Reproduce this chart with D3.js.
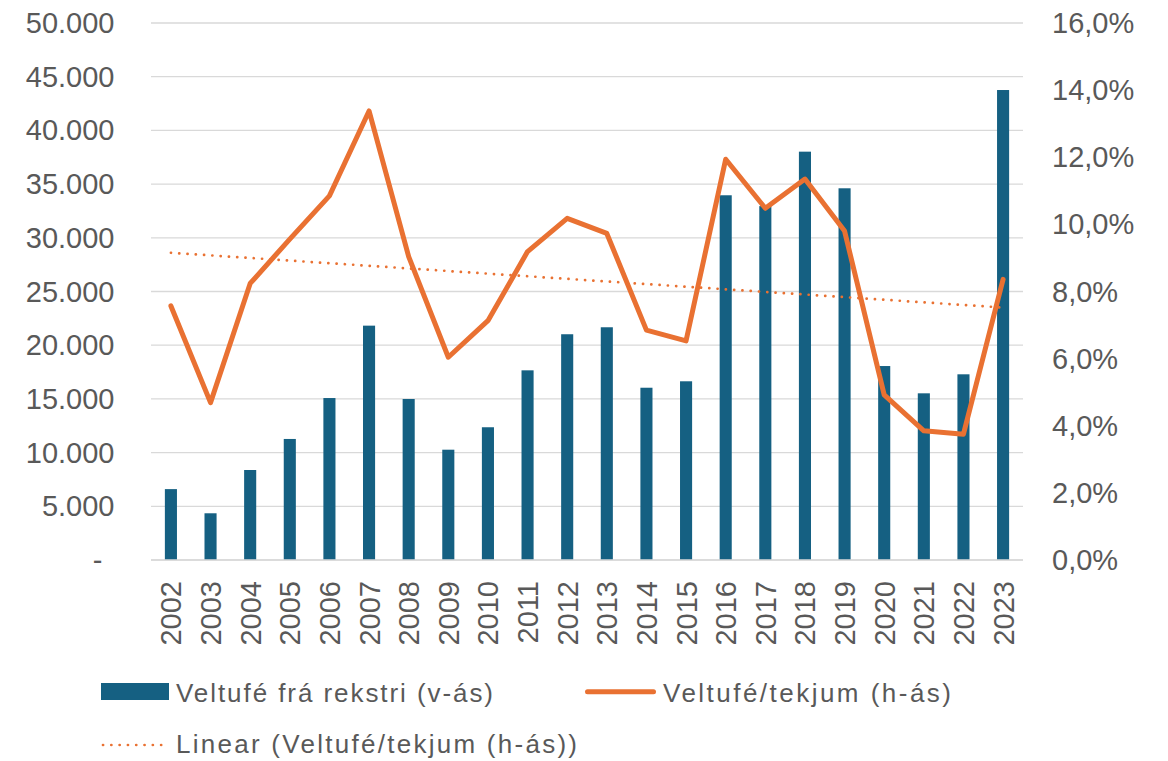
<!DOCTYPE html>
<html>
<head>
<meta charset="utf-8">
<script src="https://cdn.jsdelivr.net/npm/d3@7"></script>
<style>
  html, body { margin: 0; padding: 0; background: #fff; }
  svg { display: block; }
  text { font-family: "Liberation Sans", Arial, sans-serif; fill: #595959; }
</style>
</head>
<body>
<svg id="chart" width="1168" height="761"></svg>
<script>
const years = ["2002","2003","2004","2005","2006","2007","2008","2009","2010","2011","2012",
               "2013","2014","2015","2016","2017","2018","2019","2020","2021","2022","2023"];
const veltufe = [6600, 4350, 8380, 11270, 15080, 21820, 14990, 10270, 12360, 17660, 21020,
                 21670, 16040, 16640, 33960, 32950, 38020, 34610, 18060, 15520, 17290, 43760];
const hlutfall = [7.57, 4.69, 8.24, 9.56, 10.85, 13.38, 9.04, 6.04, 7.13, 9.19, 10.18,
                  9.73, 6.85, 6.53, 11.94, 10.48, 11.35, 9.80, 4.92, 3.85, 3.75, 8.36];
const leftTicks = [0, 5000, 10000, 15000, 20000, 25000, 30000, 35000, 40000, 45000, 50000];
const rightTicks = [0, 2, 4, 6, 8, 10, 12, 14, 16];
const legendLabels = ["Veltufé frá rekstri (v-ás)", "Veltufé/tekjum (h-ás)", "Linear (Veltufé/tekjum (h-ás))"];

(function () {
const BAR = "#156082", ORANGE = "#E97132", GRID = "#D9D9D9";
const svg = d3.select("#chart");
const pLeft = 151, pRight = 1023, pTop = 23, pBottom = 560;

const x = d3.scaleBand().domain(years).range([pLeft, pRight]).paddingInner(0.695).paddingOuter(0.35);
const yL = d3.scaleLinear().domain([0, 50000]).range([pBottom, pTop]);
const yR = d3.scaleLinear().domain([0, 16]).range([pBottom, pTop]);

// gridlines
svg.append("g").selectAll("line").data(leftTicks).join("line")
  .attr("x1", pLeft).attr("x2", pRight)
  .attr("y1", d => yL(d)).attr("y2", d => yL(d))
  .attr("stroke", GRID).attr("stroke-width", 1.3);

// left axis
const fmtL = d => d === 0 ? "-" : d3.format(",")(d).replace(/,/g, ".");
const gL = svg.append("g").attr("transform", `translate(114.5,0)`)
  .call(d3.axisLeft(yL).tickValues(leftTicks).tickSize(0).tickPadding(0).tickFormat(fmtL));
gL.select(".domain").remove();
gL.selectAll("text").attr("font-size", 29).attr("dy", "0.33em")
  .attr("font-family", "Liberation Sans, Arial, sans-serif").attr("fill", "#595959")
  .attr("dx", d => d === 0 ? -12 : 0);

// right axis
const fmtR = d => d3.format(".1f")(d).replace(".", ",") + "%";
const gR = svg.append("g").attr("transform", `translate(1052,0)`)
  .call(d3.axisRight(yR).tickValues(rightTicks).tickSize(0).tickPadding(0).tickFormat(fmtR));
gR.select(".domain").remove();
gR.selectAll("text").attr("font-size", 29).attr("dy", "0.33em")
  .attr("font-family", "Liberation Sans, Arial, sans-serif").attr("fill", "#595959");

// bars
svg.append("g").selectAll("rect").data(years).join("rect")
  .attr("x", d => x(d)).attr("width", x.bandwidth())
  .attr("y", (d, i) => yL(veltufe[i])).attr("height", (d, i) => yL(0) - yL(veltufe[i]))
  .attr("fill", BAR);

// x axis
const gX = svg.append("g").attr("transform", `translate(0,${pBottom})`)
  .call(d3.axisBottom(x).tickSize(0).tickPadding(0));
gX.select(".domain").attr("stroke", GRID).attr("stroke-width", 1.3)
  .attr("d", `M${pLeft},0H${pRight}`);
gX.selectAll("text").attr("font-size", 29)
  .attr("font-family", "Liberation Sans, Arial, sans-serif").attr("fill", "#595959")
  .attr("text-anchor", "end").attr("transform", "rotate(-90)")
  .attr("x", -21).attr("y", 0).attr("dy", "0.36em");

// main line
const cx = d => x(d) + x.bandwidth() / 2;
const line = d3.line().x((d, i) => cx(years[i])).y(d => yR(d));
svg.append("path").datum(hlutfall).attr("d", line)
  .attr("fill", "none").attr("stroke", ORANGE).attr("stroke-width", 5)
  .attr("stroke-linejoin", "round").attr("stroke-linecap", "round");

// linear trend (least squares of the series)
const n = hlutfall.length;
const xs = d3.range(1, n + 1);
const mx = d3.mean(xs), my = d3.mean(hlutfall);
const slope = d3.sum(xs, (v, i) => (v - mx) * (hlutfall[i] - my)) / d3.sum(xs, v => (v - mx) ** 2);
const icpt = my - slope * mx;
const trend = xs.map(v => icpt + slope * v);
svg.append("path").datum(trend).attr("d", line)
  .attr("fill", "none").attr("stroke", ORANGE).attr("stroke-width", 2.7)
  .attr("stroke-dasharray", "0.1 8.2").attr("stroke-linecap", "round");

// legend
const lg = svg.append("g");
lg.append("rect").attr("x", 101).attr("y", 683).attr("width", 68).attr("height", 17).attr("fill", BAR);
lg.append("text").attr("x", 176).attr("y", 702).attr("font-size", 26)
  .attr("textLength", 317).attr("lengthAdjust", "spacing").text(legendLabels[0]);
lg.append("line").attr("x1", 587.5).attr("x2", 653.5).attr("y1", 691.7).attr("y2", 691.7)
  .attr("stroke", ORANGE).attr("stroke-width", 5).attr("stroke-linecap", "round");
lg.append("text").attr("x", 663).attr("y", 702).attr("font-size", 26)
  .attr("textLength", 288).attr("lengthAdjust", "spacing").text(legendLabels[1]);
lg.append("line").attr("x1", 103).attr("x2", 169).attr("y1", 745).attr("y2", 745)
  .attr("stroke", ORANGE).attr("stroke-width", 2.7)
  .attr("stroke-dasharray", "0.1 8.2").attr("stroke-linecap", "round");
lg.append("text").attr("x", 176).attr("y", 753).attr("font-size", 26)
  .attr("textLength", 401).attr("lengthAdjust", "spacing").text(legendLabels[2]);
})();
</script>
</body>
</html>
